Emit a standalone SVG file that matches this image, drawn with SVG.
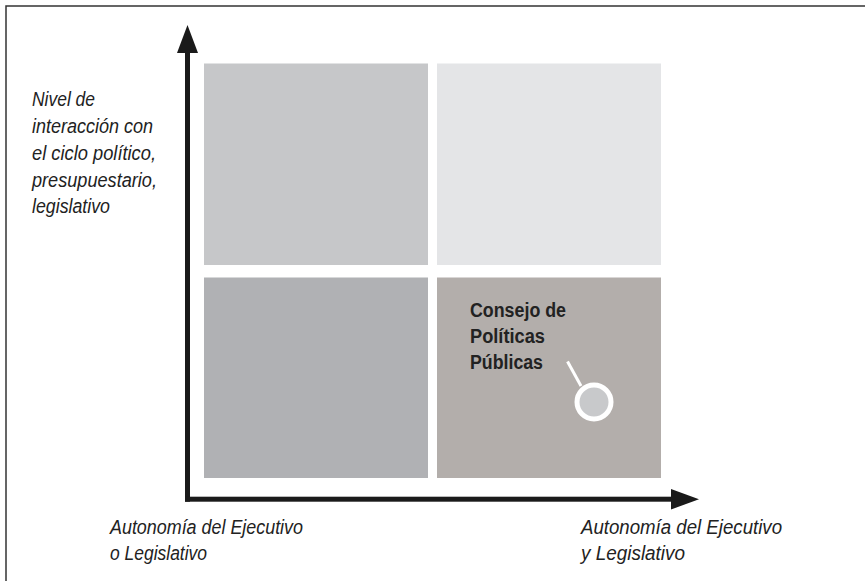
<svg xmlns="http://www.w3.org/2000/svg" width="865" height="581" viewBox="0 0 865 581">
<style>
.lbl{font-family:"Liberation Sans",Arial,sans-serif;font-style:italic;font-size:20.5px;fill:#222}
.node{font-family:"Liberation Sans",Arial,sans-serif;font-weight:bold;font-size:20px;fill:#222}
.axis{fill:#1a1a1a}
</style>
<rect width="865" height="581" fill="#fff"/>
<path d="M6,581 V6 H865" fill="none" stroke="#333" stroke-width="1.5"/>
<g id="q-top-left"><rect x="204" y="63.5" width="224" height="201.5" fill="#c6c7c9"/></g>
<g id="q-top-right"><rect x="437" y="63.5" width="224" height="201.5" fill="#e4e5e7"/></g>
<g id="q-bottom-left"><rect x="204" y="277.5" width="224" height="200.5" fill="#b0b1b4"/></g>
<g id="q-bottom-right"><rect x="437" y="277.5" width="224" height="200.5" fill="#b3aeab"/></g>
<g id="consejo">
<text class="node" x="470" y="317" textLength="96" lengthAdjust="spacingAndGlyphs">Consejo de</text>
<text class="node" x="470" y="343" textLength="75" lengthAdjust="spacingAndGlyphs">Políticas</text>
<text class="node" x="470" y="369" textLength="73" lengthAdjust="spacingAndGlyphs">Públicas</text>
<line x1="567.5" y1="361.5" x2="581" y2="386" stroke="#fff" stroke-width="3"/>
<circle cx="594" cy="402" r="17" fill="#c8c9cb" stroke="#fff" stroke-width="5"/>
</g>
<g id="connectors">
<rect class="axis" x="185" y="52" width="5" height="449.7"/>
<polygon class="axis" points="187.5,25 198,53 177,53"/>
<rect class="axis" x="185" y="496.7" width="487" height="5"/>
<polygon class="axis" points="699,499.2 671,489 671,509.4"/>
</g>
<g id="y-label">
<text class="lbl" x="32" y="106" textLength="63" lengthAdjust="spacingAndGlyphs">Nivel de</text>
<text class="lbl" x="32" y="133" textLength="121" lengthAdjust="spacingAndGlyphs">interacción con</text>
<text class="lbl" x="32" y="160" textLength="124" lengthAdjust="spacingAndGlyphs">el ciclo político,</text>
<text class="lbl" x="32" y="187" textLength="125" lengthAdjust="spacingAndGlyphs">presupuestario,</text>
<text class="lbl" x="32" y="213" textLength="78" lengthAdjust="spacingAndGlyphs">legislativo</text>
</g>
<g id="x-label-left">
<text class="lbl" x="110" y="534" textLength="193" lengthAdjust="spacingAndGlyphs">Autonomía del Ejecutivo</text>
<text class="lbl" x="110" y="560" textLength="97" lengthAdjust="spacingAndGlyphs">o Legislativo</text>
</g>
<g id="x-label-right">
<text class="lbl" x="581" y="534" textLength="201" lengthAdjust="spacingAndGlyphs">Autonomía del Ejecutivo</text>
<text class="lbl" x="581" y="560" textLength="104" lengthAdjust="spacingAndGlyphs">y Legislativo</text>
</g>
</svg>
